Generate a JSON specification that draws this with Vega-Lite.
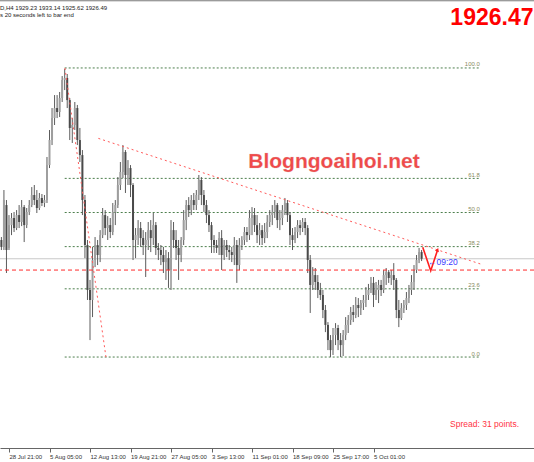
{
  "$schema": "https://vega.github.io/schema/vega-lite/v6.json",
  "width": 534,
  "height": 448,
  "padding": {"left": 0, "top": 0, "right": 0, "bottom": 14},
  "autosize": {"type": "none"},
  "background": "white",
  "config": {"view": {"stroke": null}, "font": "Liberation Sans"},
  "datasets": {
    "candles": [
      {"b":-6,"o":1941.1,"h":1943.4,"l":1933.3,"c":1935.7},
      {"b":-4,"o":1935.7,"h":1980.0,"l":1933.3,"c":1972.2},
      {"b":-2,"o":1968.3,"h":1972.2,"l":1915.4,"c":1933.3},
      {"b":0,"o":1934.9,"h":1960.5,"l":1933.3,"c":1952.7},
      {"b":2,"o":1952.7,"h":1962.1,"l":1944.9,"c":1958.2},
      {"b":4,"o":1958.2,"h":1962.9,"l":1947.3,"c":1950.4},
      {"b":6,"o":1950.4,"h":1964.4,"l":1948.8,"c":1960.5},
      {"b":8,"o":1960.5,"h":1968.3,"l":1950.4,"c":1955.1},
      {"b":10,"o":1955.1,"h":1972.2,"l":1951.9,"c":1966.7},
      {"b":12,"o":1966.7,"h":1968.3,"l":1939.5,"c":1952.7},
      {"b":14,"o":1952.7,"h":1966.0,"l":1950.4,"c":1962.9},
      {"b":16,"o":1962.9,"h":1972.2,"l":1960.5,"c":1968.3},
      {"b":18,"o":1968.3,"h":1982.3,"l":1966.7,"c":1976.1},
      {"b":20,"o":1976.1,"h":1983.9,"l":1968.3,"c":1972.2},
      {"b":22,"o":1972.2,"h":1980.0,"l":1962.1,"c":1966.0},
      {"b":24,"o":1966.0,"h":1977.7,"l":1964.4,"c":1973.8},
      {"b":26,"o":1973.8,"h":1976.9,"l":1967.5,"c":1969.9},
      {"b":28,"o":1969.9,"h":1976.1,"l":1966.7,"c":1972.2},
      {"b":30,"o":1972.2,"h":2005.7,"l":1969.9,"c":1999.4},
      {"b":32,"o":1999.4,"h":2026.7,"l":1997.1,"c":2018.9},
      {"b":34,"o":2018.9,"h":2043.8,"l":2015.0,"c":2036.0},
      {"b":36,"o":2036.0,"h":2053.9,"l":2030.6,"c":2043.8},
      {"b":38,"o":2043.8,"h":2053.9,"l":2036.0,"c":2040.7},
      {"b":40,"o":2040.7,"h":2056.3,"l":2036.8,"c":2051.6},
      {"b":42,"o":2051.6,"h":2068.7,"l":2048.5,"c":2065.6},
      {"b":44,"o":2065.6,"h":2074.2,"l":2057.8,"c":2067.2},
      {"b":46,"o":2067.2,"h":2070.3,"l":2043.8,"c":2050.0},
      {"b":48,"o":2050.0,"h":2051.6,"l":2018.9,"c":2028.3},
      {"b":50,"o":2028.3,"h":2036.0,"l":2016.6,"c":2030.6},
      {"b":52,"o":2030.6,"h":2048.5,"l":2026.7,"c":2043.8},
      {"b":54,"o":2043.8,"h":2046.2,"l":2015.0,"c":2018.9},
      {"b":56,"o":2018.9,"h":2028.3,"l":2001.8,"c":2007.2},
      {"b":58,"o":2007.2,"h":2011.1,"l":1960.5,"c":1972.2},
      {"b":60,"o":1972.2,"h":1976.1,"l":1927.0,"c":1937.2},
      {"b":62,"o":1937.2,"h":1941.1,"l":1894.4,"c":1902.2},
      {"b":64,"o":1902.2,"h":1910.0,"l":1863.2,"c":1894.4},
      {"b":66,"o":1894.4,"h":1935.7,"l":1881.1,"c":1925.5},
      {"b":68,"o":1925.5,"h":1943.4,"l":1920.0,"c":1937.2},
      {"b":70,"o":1937.2,"h":1941.1,"l":1921.6,"c":1929.4},
      {"b":72,"o":1929.4,"h":1948.8,"l":1923.9,"c":1944.9},
      {"b":74,"o":1944.9,"h":1966.0,"l":1942.6,"c":1960.5},
      {"b":76,"o":1960.5,"h":1964.4,"l":1944.9,"c":1950.4},
      {"b":78,"o":1950.4,"h":1959.7,"l":1941.1,"c":1952.7},
      {"b":80,"o":1952.7,"h":1958.2,"l":1942.6,"c":1947.3},
      {"b":82,"o":1947.3,"h":1969.9,"l":1944.9,"c":1962.9},
      {"b":84,"o":1962.9,"h":1972.2,"l":1952.7,"c":1968.3},
      {"b":86,"o":1968.3,"h":1990.1,"l":1966.0,"c":1983.9},
      {"b":88,"o":1983.9,"h":2001.8,"l":1980.0,"c":1994.0},
      {"b":90,"o":1994.0,"h":2015.0,"l":1989.3,"c":2009.6},
      {"b":92,"o":2009.6,"h":2011.1,"l":1977.7,"c":1991.7},
      {"b":94,"o":1991.7,"h":2003.3,"l":1983.9,"c":1997.1},
      {"b":96,"o":1997.1,"h":1999.4,"l":1974.5,"c":1983.9},
      {"b":98,"o":1983.9,"h":1985.4,"l":1925.5,"c":1941.1},
      {"b":100,"o":1941.1,"h":1950.4,"l":1927.0,"c":1944.9},
      {"b":102,"o":1944.9,"h":1956.6,"l":1937.2,"c":1950.4},
      {"b":104,"o":1950.4,"h":1955.1,"l":1935.7,"c":1942.6},
      {"b":106,"o":1942.6,"h":1948.8,"l":1929.4,"c":1937.2},
      {"b":108,"o":1937.2,"h":1947.3,"l":1912.3,"c":1941.1},
      {"b":110,"o":1941.1,"h":1955.1,"l":1933.3,"c":1948.8},
      {"b":112,"o":1948.8,"h":1956.6,"l":1931.7,"c":1942.6},
      {"b":114,"o":1942.6,"h":1962.1,"l":1937.2,"c":1952.7},
      {"b":116,"o":1952.7,"h":1955.1,"l":1929.4,"c":1934.9},
      {"b":118,"o":1934.9,"h":1938.7,"l":1925.5,"c":1933.3},
      {"b":120,"o":1933.3,"h":1937.2,"l":1921.6,"c":1929.4},
      {"b":122,"o":1929.4,"h":1935.7,"l":1915.4,"c":1923.9},
      {"b":124,"o":1923.9,"h":1933.3,"l":1910.0,"c":1927.0},
      {"b":126,"o":1927.0,"h":1931.7,"l":1903.8,"c":1917.7},
      {"b":128,"o":1917.7,"h":1956.6,"l":1902.2,"c":1948.8},
      {"b":130,"o":1948.8,"h":1955.1,"l":1934.9,"c":1941.1},
      {"b":132,"o":1941.1,"h":1948.8,"l":1925.5,"c":1934.9},
      {"b":134,"o":1934.9,"h":1941.1,"l":1910.0,"c":1929.4},
      {"b":136,"o":1929.4,"h":1943.4,"l":1923.9,"c":1941.1},
      {"b":138,"o":1941.1,"h":1964.4,"l":1937.2,"c":1956.6},
      {"b":140,"o":1956.6,"h":1972.2,"l":1948.8,"c":1968.3},
      {"b":142,"o":1968.3,"h":1974.5,"l":1959.0,"c":1964.4},
      {"b":144,"o":1964.4,"h":1976.1,"l":1960.5,"c":1972.2},
      {"b":146,"o":1972.2,"h":1977.7,"l":1964.4,"c":1968.3},
      {"b":148,"o":1968.3,"h":1980.0,"l":1964.4,"c":1976.1},
      {"b":150,"o":1976.1,"h":1991.7,"l":1972.2,"c":1987.8},
      {"b":152,"o":1987.8,"h":1990.1,"l":1968.3,"c":1976.1},
      {"b":154,"o":1976.1,"h":1980.0,"l":1962.9,"c":1968.3},
      {"b":156,"o":1968.3,"h":1972.2,"l":1954.3,"c":1960.5},
      {"b":158,"o":1960.5,"h":1964.4,"l":1947.3,"c":1952.7},
      {"b":160,"o":1952.7,"h":1955.1,"l":1931.0,"c":1941.1},
      {"b":162,"o":1941.1,"h":1944.9,"l":1931.0,"c":1937.2},
      {"b":164,"o":1937.2,"h":1941.1,"l":1931.0,"c":1934.9},
      {"b":166,"o":1934.9,"h":1947.3,"l":1929.4,"c":1942.6},
      {"b":168,"o":1942.6,"h":1948.8,"l":1917.7,"c":1929.4},
      {"b":170,"o":1929.4,"h":1941.1,"l":1925.5,"c":1937.2},
      {"b":172,"o":1937.2,"h":1941.1,"l":1927.8,"c":1933.3},
      {"b":174,"o":1933.3,"h":1937.2,"l":1925.5,"c":1931.7},
      {"b":176,"o":1931.7,"h":1935.7,"l":1923.9,"c":1929.4},
      {"b":178,"o":1929.4,"h":1943.4,"l":1921.6,"c":1937.2},
      {"b":180,"o":1937.2,"h":1941.1,"l":1907.7,"c":1921.6},
      {"b":182,"o":1921.6,"h":1942.6,"l":1917.7,"c":1937.2},
      {"b":184,"o":1937.2,"h":1944.1,"l":1933.3,"c":1941.1},
      {"b":186,"o":1941.1,"h":1951.2,"l":1937.2,"c":1947.3},
      {"b":188,"o":1947.3,"h":1951.2,"l":1939.5,"c":1944.9},
      {"b":190,"o":1944.9,"h":1964.4,"l":1941.1,"c":1958.2},
      {"b":192,"o":1958.2,"h":1966.7,"l":1944.9,"c":1960.5},
      {"b":194,"o":1960.5,"h":1966.0,"l":1947.3,"c":1952.7},
      {"b":196,"o":1952.7,"h":1960.5,"l":1938.7,"c":1944.9},
      {"b":198,"o":1944.9,"h":1954.3,"l":1937.2,"c":1948.8},
      {"b":200,"o":1948.8,"h":1952.7,"l":1937.2,"c":1942.6},
      {"b":202,"o":1942.6,"h":1954.3,"l":1938.7,"c":1947.3},
      {"b":204,"o":1947.3,"h":1960.5,"l":1942.6,"c":1955.1},
      {"b":206,"o":1955.1,"h":1964.4,"l":1951.2,"c":1960.5},
      {"b":208,"o":1960.5,"h":1968.3,"l":1952.7,"c":1962.9},
      {"b":210,"o":1962.9,"h":1972.2,"l":1958.2,"c":1968.3},
      {"b":212,"o":1968.3,"h":1969.9,"l":1950.4,"c":1956.6},
      {"b":214,"o":1956.6,"h":1964.4,"l":1948.8,"c":1958.2},
      {"b":216,"o":1958.2,"h":1968.3,"l":1952.7,"c":1964.4},
      {"b":218,"o":1964.4,"h":1973.8,"l":1960.5,"c":1969.9},
      {"b":220,"o":1969.9,"h":1972.2,"l":1955.1,"c":1960.5},
      {"b":222,"o":1960.5,"h":1962.9,"l":1937.2,"c":1944.9},
      {"b":224,"o":1944.9,"h":1950.4,"l":1933.3,"c":1941.1},
      {"b":226,"o":1941.1,"h":1951.2,"l":1938.7,"c":1947.3},
      {"b":228,"o":1947.3,"h":1956.6,"l":1942.6,"c":1952.7},
      {"b":230,"o":1952.7,"h":1956.6,"l":1944.9,"c":1950.4},
      {"b":232,"o":1950.4,"h":1958.2,"l":1947.3,"c":1955.1},
      {"b":234,"o":1955.1,"h":1958.2,"l":1944.9,"c":1950.4},
      {"b":236,"o":1950.4,"h":1952.7,"l":1915.4,"c":1925.5},
      {"b":238,"o":1925.5,"h":1929.4,"l":1884.3,"c":1906.1},
      {"b":240,"o":1906.1,"h":1920.0,"l":1902.2,"c":1913.8},
      {"b":242,"o":1913.8,"h":1919.3,"l":1902.2,"c":1908.4},
      {"b":244,"o":1908.4,"h":1913.8,"l":1895.9,"c":1902.2},
      {"b":246,"o":1902.2,"h":1907.7,"l":1894.4,"c":1898.3},
      {"b":248,"o":1898.3,"h":1902.2,"l":1880.3,"c":1886.6},
      {"b":250,"o":1886.6,"h":1890.5,"l":1869.4,"c":1875.0},
      {"b":252,"o":1875.0,"h":1877.2,"l":1855.4,"c":1863.2},
      {"b":254,"o":1863.2,"h":1867.1,"l":1850.0,"c":1855.4},
      {"b":256,"o":1855.4,"h":1872.6,"l":1851.6,"c":1867.1},
      {"b":258,"o":1867.1,"h":1876.4,"l":1859.3,"c":1872.6},
      {"b":260,"o":1872.6,"h":1875.0,"l":1855.4,"c":1863.2},
      {"b":262,"o":1863.2,"h":1868.7,"l":1850.0,"c":1859.3},
      {"b":264,"o":1859.3,"h":1871.0,"l":1850.8,"c":1867.1},
      {"b":266,"o":1867.1,"h":1881.1,"l":1863.2,"c":1875.0},
      {"b":268,"o":1875.0,"h":1882.7,"l":1868.7,"c":1878.8},
      {"b":270,"o":1878.8,"h":1889.0,"l":1875.0,"c":1885.0},
      {"b":272,"o":1885.0,"h":1890.5,"l":1877.2,"c":1882.7},
      {"b":274,"o":1882.7,"h":1896.7,"l":1880.3,"c":1890.5},
      {"b":276,"o":1890.5,"h":1895.9,"l":1881.1,"c":1888.1},
      {"b":278,"o":1888.1,"h":1894.4,"l":1882.7,"c":1892.0},
      {"b":280,"o":1892.0,"h":1898.3,"l":1886.6,"c":1894.4},
      {"b":282,"o":1894.4,"h":1904.5,"l":1888.9,"c":1898.3},
      {"b":284,"o":1898.3,"h":1906.9,"l":1894.4,"c":1902.2},
      {"b":286,"o":1902.2,"h":1912.3,"l":1899.8,"c":1907.7},
      {"b":288,"o":1907.7,"h":1912.3,"l":1888.9,"c":1898.3},
      {"b":290,"o":1898.3,"h":1908.4,"l":1894.4,"c":1902.2},
      {"b":292,"o":1902.2,"h":1910.0,"l":1892.0,"c":1906.1},
      {"b":294,"o":1906.1,"h":1910.0,"l":1897.5,"c":1902.2},
      {"b":296,"o":1902.2,"h":1917.7,"l":1899.8,"c":1913.8},
      {"b":298,"o":1913.8,"h":1919.3,"l":1906.1,"c":1916.1},
      {"b":300,"o":1916.1,"h":1917.7,"l":1907.7,"c":1911.5},
      {"b":302,"o":1911.5,"h":1917.7,"l":1906.1,"c":1913.8},
      {"b":304,"o":1913.8,"h":1923.1,"l":1902.2,"c":1910.0},
      {"b":306,"o":1910.0,"h":1911.5,"l":1880.3,"c":1886.6},
      {"b":308,"o":1886.6,"h":1894.4,"l":1873.3,"c":1880.3},
      {"b":310,"o":1880.3,"h":1892.0,"l":1878.8,"c":1888.1},
      {"b":312,"o":1888.1,"h":1894.4,"l":1884.3,"c":1890.5},
      {"b":314,"o":1890.5,"h":1900.6,"l":1886.6,"c":1895.9},
      {"b":316,"o":1895.9,"h":1906.1,"l":1892.0,"c":1902.2},
      {"b":318,"o":1902.2,"h":1913.8,"l":1898.3,"c":1908.4},
      {"b":320,"o":1908.4,"h":1921.6,"l":1902.2,"c":1917.7},
      {"b":322,"o":1917.7,"h":1929.4,"l":1915.4,"c":1925.5},
      {"b":324,"o":1925.5,"h":1934.9,"l":1923.1,"c":1931.7},
      {"b":326,"o":1931.7,"h":1933.3,"l":1924.7,"c":1926.5}
    ],
    "fib": [
      {"lvl":"100.0","p":2075.0,"b0":44,"b1":372},
      {"lvl":"61.8","p":1989.05,"b0":44,"b1":372},
      {"lvl":"50.0","p":1962.5,"b0":44,"b1":372},
      {"lvl":"38.2","p":1935.95,"b0":44,"b1":372},
      {"lvl":"23.6","p":1903.1,"b0":44,"b1":372},
      {"lvl":"0.0","p":1850.0,"b0":44,"b1":372}
    ],
    "trend": [
      {"b0":44.2,"p0":2075.0,"b1":76.6,"p1":1850.0},
      {"b0":70.6,"p0":2020.2,"b1":373.5,"p1":1922.1}
    ],
    "arrow": [
      {"b":326.9,"p":1935.4,"o":1},
      {"b":333.2,"p":1917.2,"o":2},
      {"b":338.4,"p":1932.7,"o":3}
    ]
  },
  "layer": [
    {
      "data": {"name": "fib"},
      "mark": {"type": "rule", "color": "#4d7f4d", "strokeWidth": 1, "strokeDash": [2, 2]},
      "encoding": {
        "x": {"field": "b0", "type": "quantitative", "scale": {"domain": [-7.11, 414.8], "nice": false, "zero": false},
          "axis": {"orient": "bottom", "values": [0, 32, 64, 96, 128, 160, 192, 224, 256, 288],
            "labelExpr": "['28 Jul 21:00','5 Aug 05:00','12 Aug 13:00','19 Aug 21:00','27 Aug 05:00','3 Sep 13:00','11 Sep 01:00','18 Sep 09:00','25 Sep 17:00','5 Oct 01:00'][round(datum.value/32)]",
            "title": null, "grid": false, "domainColor": "#666666", "tickColor": "#666666", "tickSize": 4,
            "labelAlign": "left", "labelBaseline": "top", "labelPadding": 1, "labelFontSize": 6, "labelColor": "#333333",
            "labelFont": "Liberation Sans", "labelFlush": false, "labelOverlap": false}},
        "x2": {"field": "b1"},
        "y": {"field": "p", "type": "quantitative", "scale": {"domain": [1779.2, 2127.9], "nice": false, "zero": false}, "axis": null}
      }
    },
    {
      "data": {"name": "fib"},
      "mark": {"type": "text", "align": "right", "baseline": "bottom", "dy": -0.5, "fontSize": 6, "color": "#8a8a5e"},
      "encoding": {
        "x": {"field": "b1", "type": "quantitative", "scale": {"domain": [-7.11, 414.8], "nice": false, "zero": false}},
        "y": {"field": "p", "type": "quantitative", "scale": {"domain": [1779.2, 2127.9], "nice": false, "zero": false}, "axis": null},
        "text": {"field": "lvl"}
      }
    },
    {
      "data": {"values": [{"p": 1926.5}]},
      "mark": {"type": "rule", "color": "#c8c8c8", "strokeWidth": 1},
      "encoding": {
        "y": {"field": "p", "type": "quantitative", "scale": {"domain": [1779.2, 2127.9], "nice": false, "zero": false}, "axis": null}
      }
    },
    {
      "data": {"name": "candles"},
      "mark": {"type": "rule", "color": "#5c5c5c", "strokeWidth": 1},
      "encoding": {
        "x": {"field": "b", "type": "quantitative", "scale": {"domain": [-7.11, 414.8], "nice": false, "zero": false}},
        "y": {"field": "l", "type": "quantitative", "scale": {"domain": [1779.2, 2127.9], "nice": false, "zero": false}, "axis": null},
        "y2": {"field": "h"}
      }
    },
    {
      "data": {"name": "candles"},
      "mark": {"type": "rule", "strokeWidth": 2},
      "encoding": {
        "x": {"field": "b", "type": "quantitative", "scale": {"domain": [-7.11, 414.8], "nice": false, "zero": false}},
        "y": {"field": "o", "type": "quantitative", "scale": {"domain": [1779.2, 2127.9], "nice": false, "zero": false}, "axis": null},
        "y2": {"field": "c"},
        "color": {"condition": {"test": "datum.c >= datum.o", "value": "#9e9e9e"}, "value": "#4a4a4a"}
      }
    },
    {
      "data": {"values": [{"p": 1917.7}]},
      "mark": {"type": "rule", "color": "#ff2a2a", "strokeWidth": 1, "strokeDash": [4, 3]},
      "encoding": {
        "y": {"field": "p", "type": "quantitative", "scale": {"domain": [1779.2, 2127.9], "nice": false, "zero": false}, "axis": null}
      }
    },
    {
      "data": {"name": "trend"},
      "mark": {"type": "rule", "color": "#ff5a5a", "strokeWidth": 1, "strokeDash": [2, 3]},
      "encoding": {
        "x": {"field": "b0", "type": "quantitative", "scale": {"domain": [-7.11, 414.8], "nice": false, "zero": false}},
        "x2": {"field": "b1"},
        "y": {"field": "p0", "type": "quantitative", "scale": {"domain": [1779.2, 2127.9], "nice": false, "zero": false}, "axis": null},
        "y2": {"field": "p1"}
      }
    },
    {
      "data": {"name": "arrow"},
      "mark": {"type": "line", "color": "#ff2020", "strokeWidth": 1.6},
      "encoding": {
        "x": {"field": "b", "type": "quantitative", "scale": {"domain": [-7.11, 414.8], "nice": false, "zero": false}},
        "y": {"field": "p", "type": "quantitative", "scale": {"domain": [1779.2, 2127.9], "nice": false, "zero": false}, "axis": null},
        "order": {"field": "o"}
      }
    },
    {
      "data": {"values": [{"b": 338.6, "p": 1933.5}]},
      "mark": {"type": "point", "shape": "triangle-up", "filled": true, "color": "#ff2020", "size": 18, "angle": 20, "opacity": 1},
      "encoding": {
        "x": {"field": "b", "type": "quantitative", "scale": {"domain": [-7.11, 414.8], "nice": false, "zero": false}},
        "y": {"field": "p", "type": "quantitative", "scale": {"domain": [1779.2, 2127.9], "nice": false, "zero": false}, "axis": null}
      }
    },
    {
      "data": {"values": [{"b": 331.0, "p": 1921.6, "t": "←09:20"}]},
      "mark": {"type": "text", "align": "left", "baseline": "alphabetic", "fontSize": 8.5, "color": "#3a3aff"},
      "encoding": {
        "x": {"field": "b", "type": "quantitative", "scale": {"domain": [-7.11, 414.8], "nice": false, "zero": false}},
        "y": {"field": "p", "type": "quantitative", "scale": {"domain": [1779.2, 2127.9], "nice": false, "zero": false}, "axis": null},
        "text": {"field": "t"}
      }
    },
    {
      "data": {"values": [{"b": 256.8, "p": 1996.9, "t": "Blogngoaihoi.net"}]},
      "mark": {"type": "text", "align": "center", "baseline": "alphabetic", "fontSize": 21, "fontWeight": "bold", "color": "#f04a4a", "stroke": "#d8b0b0", "strokeWidth": 0.4, "strokeOpacity": 0.5},
      "encoding": {
        "x": {"field": "b", "type": "quantitative", "scale": {"domain": [-7.11, 414.8], "nice": false, "zero": false}},
        "y": {"field": "p", "type": "quantitative", "scale": {"domain": [1779.2, 2127.9], "nice": false, "zero": false}, "axis": null},
        "text": {"field": "t"}
      }
    },
    {
      "data": {"values": [{"b": 414.4, "p": 2108.4, "t": "1926.47"}]},
      "mark": {"type": "text", "align": "right", "baseline": "alphabetic", "fontSize": 23, "fontWeight": "bold", "color": "#ff0000"},
      "encoding": {
        "x": {"field": "b", "type": "quantitative", "scale": {"domain": [-7.11, 414.8], "nice": false, "zero": false}},
        "y": {"field": "p", "type": "quantitative", "scale": {"domain": [1779.2, 2127.9], "nice": false, "zero": false}, "axis": null},
        "text": {"field": "t"}
      }
    },
    {
      "data": {"values": [{"b": 348.5, "p": 1795.5, "t": "Spread: 31 points."}]},
      "mark": {"type": "text", "align": "left", "baseline": "alphabetic", "fontSize": 8.5, "color": "#ff3344"},
      "encoding": {
        "x": {"field": "b", "type": "quantitative", "scale": {"domain": [-7.11, 414.8], "nice": false, "zero": false}},
        "y": {"field": "p", "type": "quantitative", "scale": {"domain": [1779.2, 2127.9], "nice": false, "zero": false}, "axis": null},
        "text": {"field": "t"}
      }
    },
    {
      "data": {"values": [
        {"b": -7.11, "p": 2120.5, "t": "D,H4  1929.23 1933.14 1925.62 1926.49"},
        {"b": -7.11, "p": 2114.4, "t": "s 20 seconds left to bar end"}
      ]},
      "mark": {"type": "text", "align": "left", "baseline": "alphabetic", "fontSize": 6, "color": "#222222"},
      "encoding": {
        "x": {"field": "b", "type": "quantitative", "scale": {"domain": [-7.11, 414.8], "nice": false, "zero": false}},
        "y": {"field": "p", "type": "quantitative", "scale": {"domain": [1779.2, 2127.9], "nice": false, "zero": false}, "axis": null},
        "text": {"field": "t"}
      }
    },
    {
      "data": {"values": [{"p": 2127.3}]},
      "mark": {"type": "rule", "color": "#777777", "strokeWidth": 1},
      "encoding": {
        "y": {"field": "p", "type": "quantitative", "scale": {"domain": [1779.2, 2127.9], "nice": false, "zero": false}, "axis": null}
      }
    }
  ]
}
